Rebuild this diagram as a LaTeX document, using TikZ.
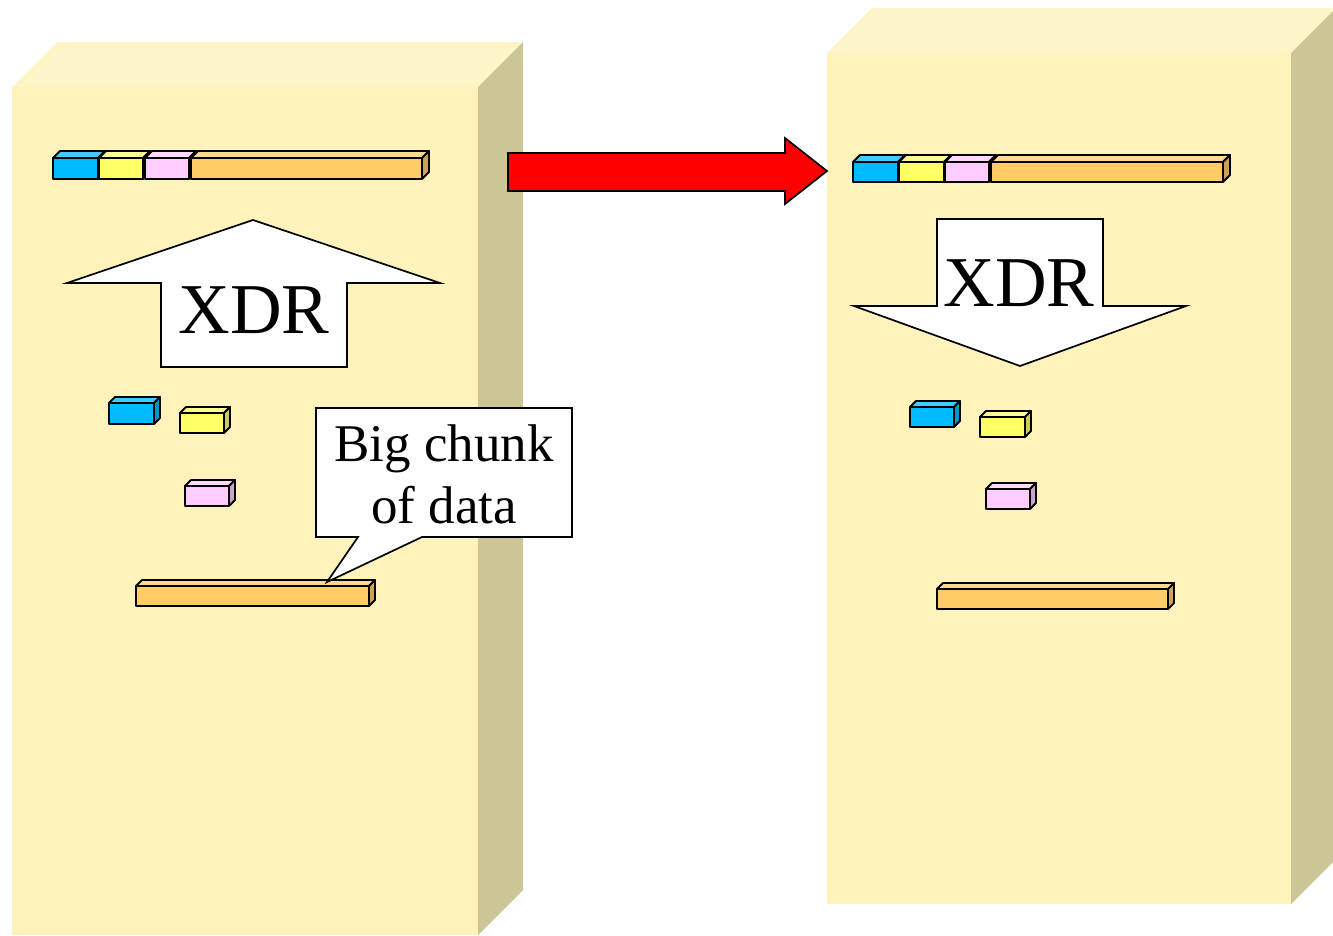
\documentclass[tikz,border=0pt]{standalone}
\usepackage{fontspec}
\setmainfont{Liberation Serif}
\definecolor{boxfront}{HTML}{FFF2BB}
\definecolor{boxtop}{HTML}{FDF4C7}
\definecolor{boxside}{HTML}{CCC595}
\definecolor{cblue}{HTML}{00BBFF}
\definecolor{cyellow}{HTML}{FFFF66}
\definecolor{cpink}{HTML}{FFCCFF}
\definecolor{corange}{HTML}{FFCC66}
\definecolor{cred}{HTML}{FF0000}
\tikzset{
  blockline/.style={draw=black, line width=1.8pt, line join=round},
  bigarrow/.style={draw=black, line width=1.7pt, fill=white, line join=miter},
  xdrtext/.style={font=\fontsize{71.5}{80}\selectfont, anchor=base, inner sep=0pt},
  calltext/.style={font=\fontsize{53}{62}\selectfont, anchor=base, inner sep=0pt},
}
% cuboid: x1, y1 (front top-left), x2, y2 (front bottom-right), depth, colour
\newcommand\mycub[6]{%
  \path[blockline, fill=#6] (#1,#2) rectangle (#3,#4);
  \path[blockline, fill=#6!75!white] (#1,#2) -- ({#1+#5},{#2-#5}) -- ({#3+#5},{#2-#5}) -- (#3,#2) -- cycle;
  \path[blockline, fill=#6!80!black] (#3,#2) -- ({#3+#5},{#2-#5}) -- ({#3+#5},{#4-#5}) -- (#3,#4) -- cycle;
}
% big pale box: x1, y1, x2, y2, depth
\newcommand\bigbox[5]{%
  \fill[boxfront] (#1,#2) rectangle (#3,#4);
  \fill[boxtop] (#1,#2) -- ({#1+#5},{#2-#5}) -- ({#3+#5},{#2-#5}) -- (#3,#2) -- cycle;
  \fill[boxside] (#3,#2) -- ({#3+#5},{#2-#5}) -- ({#3+#5},{#4-#5}) -- (#3,#4) -- cycle;
}
\begin{document}
\begin{tikzpicture}[x=1pt,y=-1pt]
\useasboundingbox (0,0) rectangle (1333,935);
\begin{scope}
\clip (0,0) rectangle (1333,935);
% big boxes
\bigbox{12}{87}{478}{935}{45}
\bigbox{827}{53}{1291}{904}{45}
\end{scope}

% red arrow
\path[draw=black, line width=1.7pt, fill=cred, line join=miter]
  (508,153) -- (785,153) -- (785,138) -- (827,171) -- (785,204) -- (785,191) -- (508,191) -- cycle;

% left top bar
\mycub{53}{158}{98}{179}{7}{cblue}
\mycub{99}{158}{143}{179}{7}{cyellow}
\mycub{145}{158}{189}{179}{7}{cpink}
\mycub{191}{158}{422}{179}{7}{corange}

% right top bar
\mycub{853}{162}{898}{182}{7}{cblue}
\mycub{899}{162}{944}{182}{7}{cyellow}
\mycub{945}{162}{989}{182}{7}{cpink}
\mycub{991}{162}{1223}{182}{7}{corange}

% left separate blocks
\mycub{109}{403}{154}{424}{6}{cblue}
\mycub{180}{413}{224}{433}{6}{cyellow}
\mycub{185}{486}{229}{506}{6}{cpink}
\mycub{136}{586}{369}{606}{6}{corange}

% right separate blocks
\mycub{910}{407}{954}{427}{6}{cblue}
\mycub{980}{417}{1025}{437}{6}{cyellow}
\mycub{986}{489}{1030}{509}{6}{cpink}
\mycub{937}{589}{1168}{609}{6}{corange}

% XDR arrows
\path[bigarrow] (161,367) -- (161,283) -- (67,283) -- (253,220) -- (440,283) -- (347,283) -- (347,367) -- cycle;
\node[xdrtext] (xdrleft) at (254,333) {XDR};

\path[bigarrow] (937,219) -- (1103,219) -- (1103,306) -- (1186,306) -- (1020,366) -- (854,306) -- (937,306) -- cycle;
\node[xdrtext] (xdrright) at (1019,306) {XDR};

% callout
\path[draw=black, line width=1.7pt, fill=white, line join=miter]
  (316,408) -- (572,408) -- (572,537) -- (422,537) -- (327,582) -- (358,537) -- (316,537) -- cycle;
\node[calltext] (callone) at (444,461) {Big chunk};
\node[calltext] (calltwo) at (444,523) {of data};
\end{tikzpicture}
\end{document}
